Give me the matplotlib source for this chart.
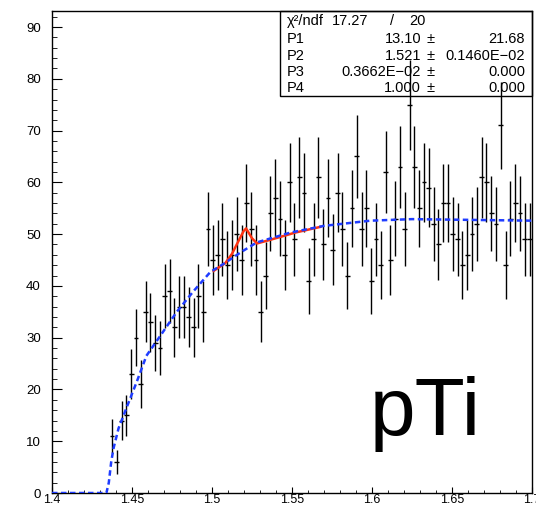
import numpy as np
import matplotlib.pyplot as plt
from matplotlib.ticker import MultipleLocator
from matplotlib.patches import Rectangle

plt.rcParams['font.family'] = ['Liberation Sans', 'DejaVu Sans']

# histogram: 100 bins of 0.003 between 1.4 and 1.7, first filled bin is no. 12
bin_lo = 1.4
bin_w = 0.003
first_bin = 12
counts = [11, 6, 14, 15, 23, 30, 21, 35, 33, 29, 28, 38, 39, 32, 36, 36, 34, 32, 38, 35,
          51, 45, 46, 49, 44, 46, 50, 45, 56, 51, 45, 35, 42, 54, 57, 53, 46, 60, 49, 61,
          58, 41, 49, 61, 48, 57, 47, 58, 51, 42, 55, 65, 51, 55, 41, 49, 44, 62, 45, 53,
          63, 51, 75, 63, 55, 60, 59, 52, 48, 56, 56, 50, 49, 44, 46, 50, 52, 61, 60, 54,
          52, 71, 44, 53, 56, 54, 49, 49]
errors = [3.3, 2.4, 3.7, 3.9, 4.8, 5.5, 4.6, 5.9, 5.7, 5.4, 5.3, 6.2, 6.2, 5.7, 6.0, 6.0, 5.8, 5.7, 6.2, 5.9,
          7.1, 6.7, 6.8, 7.0, 6.6, 6.8, 7.1, 6.7, 7.5, 7.1, 6.7, 5.9, 6.5, 7.3, 7.5, 7.3, 6.8, 7.7, 7.0, 7.8,
          7.6, 6.4, 7.0, 7.8, 6.9, 7.5, 6.9, 7.6, 7.1, 6.5, 7.4, 8.1, 7.1, 7.4, 6.4, 7.0, 6.6, 7.9, 6.7, 7.3,
          7.9, 7.1, 8.7, 7.9, 7.4, 7.7, 7.7, 7.2, 6.9, 7.5, 7.5, 7.1, 7.0, 6.6, 6.8, 7.1, 7.2, 7.8, 7.7, 7.3,
          7.2, 8.4, 6.6, 7.3, 7.5, 7.3, 7.0, 7.0]

# fitted curve (blue, dashed) and the peak fit (red)
fit_x = [1.400, 1.434, 1.4355, 1.437, 1.4385, 1.4416, 1.447, 1.453, 1.459, 1.468, 1.478,
         1.4885, 1.499, 1.5075, 1.518, 1.528, 1.549, 1.570, 1.599, 1.625, 1.650, 1.700]
fit_y = [0, 0, 2, 6, 8.7, 12.5, 16.8, 21.5, 26.5, 30.5, 35,
         39, 42.7, 44.3, 46.5, 48.4, 50.3, 51.6, 52.6, 52.9, 52.8, 52.6]
peak_x = [1.501, 1.5083, 1.5125, 1.5166, 1.5198, 1.5213, 1.525, 1.5281, 1.5364, 1.552, 1.5677]
peak_y = [42.9, 44.4, 46.2, 48.7, 50.6, 51.1, 49.2, 48.2, 48.9, 50.3, 51.4]

xticks = [1.4, 1.45, 1.5, 1.55, 1.6, 1.65, 1.7]
xtick_labels = ['1.4', '1.45', '1.5', '1.55', '1.6', '1.65', '1.7']
yticks = [0, 10, 20, 30, 40, 50, 60, 70, 80, 90]

chi2 = '17.27'
ndf = '20'
par_names = ['P1', 'P2', 'P3', 'P4']
par_vals = ['13.10', '1.521', '0.3662E\u221202', '1.000']
par_errs = ['21.68', '0.1460E\u221202', '0.000', '0.000']

W, H = 536, 507
fig = plt.figure(figsize=(W / 100, H / 100), dpi=100)
ax = fig.add_axes([52 / W, 14 / H, 480 / W, 482 / H])

centers = bin_lo + bin_w * (np.arange(len(counts)) + first_bin + 0.5)
ax.errorbar(centers, counts, yerr=errors, xerr=bin_w / 2, fmt='none',
            ecolor='black', elinewidth=1, capsize=0, zorder=2)
ax.plot(peak_x, peak_y, color='#ff3311', lw=1.8, zorder=3)
ax.plot(fit_x, fit_y, color='#1f3cff', lw=1.8, dashes=(2.2, 1.4), zorder=4)

ax.set_xlim(1.4, 1.7)
ax.set_ylim(0, 93.1)
ax.set_xticks(xticks)
ax.set_xticklabels(xtick_labels)
ax.set_yticks(yticks)
ax.xaxis.set_minor_locator(MultipleLocator(0.01))
ax.yaxis.set_minor_locator(MultipleLocator(2))
ax.tick_params(which='both', direction='in', top=False, right=False, labelsize=9.5)
ax.tick_params(axis='x', which='major', length=4.5, pad=1, labelsize=9)
ax.tick_params(axis='x', which='minor', length=2.2)
ax.tick_params(axis='y', which='major', length=7.5, pad=8)
ax.tick_params(axis='y', which='minor', length=3.6)
for s in ax.spines.values():
    s.set_linewidth(1)

# stats box, placed in pixel coordinates of the canvas
def fx(px):
    return px / W

def fy(py):
    return 1 - py / H

fig.add_artist(Rectangle((fx(280), fy(96)), fx(532) - fx(280), fy(11) - fy(96),
                         transform=fig.transFigure, fill=False, edgecolor='black', lw=1))
fs = 10.5
fig.text(fx(287), fy(21), '\u03c7\u00b2/ndf', fontsize=fs, va='center')
fig.text(fx(368), fy(21), chi2, fontsize=fs, va='center', ha='right')
fig.text(fx(392), fy(21), '/', fontsize=fs, va='center', ha='center')
fig.text(fx(426), fy(21), ndf, fontsize=fs, va='center', ha='right')
rows = [39, 56, 72, 88]
for py, name, val, err in zip(rows, par_names, par_vals, par_errs):
    fig.text(fx(287), fy(py), name, fontsize=fs, va='center')
    fig.text(fx(421), fy(py), val, fontsize=fs, va='center', ha='right')
    fig.text(fx(431), fy(py), '\u00b1', fontsize=fs, va='center', ha='center')
    fig.text(fx(525), fy(py), err, fontsize=fs, va='center', ha='right')

fig.text(fx(425), fy(435), 'pTi', fontsize=59, ha='center', va='baseline')

fig.savefig('out.png', dpi=100)
